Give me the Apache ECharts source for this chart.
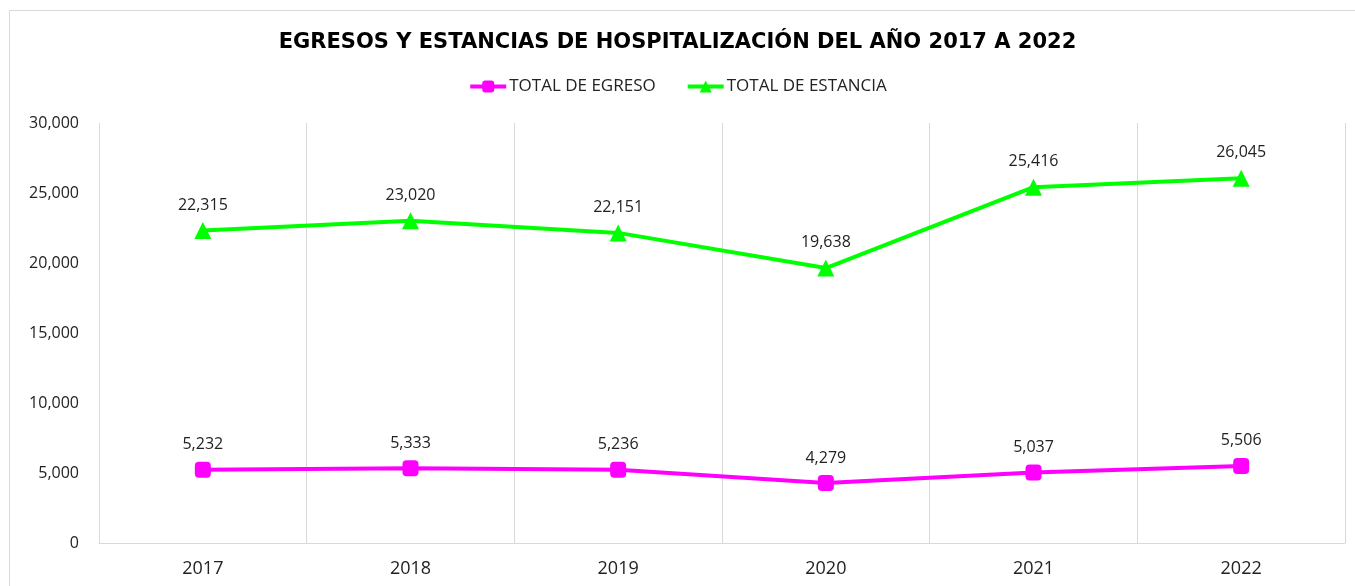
<!DOCTYPE html>
<html><head><meta charset="utf-8">
<script src="https://cdn.jsdelivr.net/npm/echarts@6/dist/echarts.min.js"></script>
<style>html,body{margin:0;padding:0;background:#fff}#c{width:1355px;height:586px}</style>
</head><body><div id="c"></div>
<script>
const categories = ['2017','2018','2019','2020','2021','2022'];
const egreso = [5232, 5333, 5236, 4279, 5037, 5506];
const estancia = [22315, 23020, 22151, 19638, 25416, 26045];
const titleText = 'EGRESOS Y ESTANCIAS DE HOSPITALIZACIÓN DEL AÑO 2017 A 2022';
const seriesNames = ['TOTAL DE EGRESO', 'TOTAL DE ESTANCIA'];

const fmt = v => v.toLocaleString('en-US');
const chart = echarts.init(document.getElementById('c'), null, {renderer:'canvas'});
const lbl = {show:true, position:'top', distance:9, color:'#222', fontFamily:'Open Sans', fontSize:16, formatter:p=>fmt(p.value)};
chart.setOption({
  animation:false,
  backgroundColor:'#fff',
  graphic:[{type:'rect', shape:{x:9.5,y:10.5,width:1360,height:600}, style:{fill:'none', stroke:'#d9d9d9', lineWidth:1}, silent:true}],
  title:{text:titleText, left:'center', top:27, textStyle:{fontFamily:'DejaVu Sans', fontWeight:'bold', fontSize:21, color:'#000'}},
  legend:{top:73, left:'center', itemWidth:36, itemHeight:15, itemGap:30,
    textStyle:{fontFamily:'Open Sans', fontSize:17, color:'#222', padding:[0,0,0,-2]},
    data:[{name:seriesNames[0], lineStyle:{width:4}}, {name:seriesNames[1], lineStyle:{width:4}}]},
  grid:{left:99, right:10, top:123, bottom:43},
  xAxis:{type:'category', data:categories, boundaryGap:true,
    axisLine:{lineStyle:{color:'#d9d9d9', width:1}}, axisTick:{show:false},
    axisLabel:{color:'#222', fontFamily:'Open Sans', fontSize:18, margin:17},
    splitLine:{show:true, interval:0, lineStyle:{color:'#d9d9d9', width:1}}},
  yAxis:{type:'value', min:0, max:30000, interval:5000,
    axisLine:{show:false}, axisTick:{show:false}, splitLine:{show:false},
    axisLabel:{color:'#222', fontFamily:'Open Sans', fontSize:16, margin:20, formatter:v=>fmt(v)}},
  series:[
    {name:seriesNames[0], type:'line', data:egreso, symbol:'roundRect', symbolSize:16,
     lineStyle:{color:'#ff00ff', width:4}, itemStyle:{color:'#ff00ff'}, label:lbl},
    {name:seriesNames[1], type:'line', data:estancia, symbol:'triangle', symbolSize:17,
     lineStyle:{color:'#00ff00', width:4}, itemStyle:{color:'#00ff00'}, label:lbl}
  ]
});
</script></body></html>
